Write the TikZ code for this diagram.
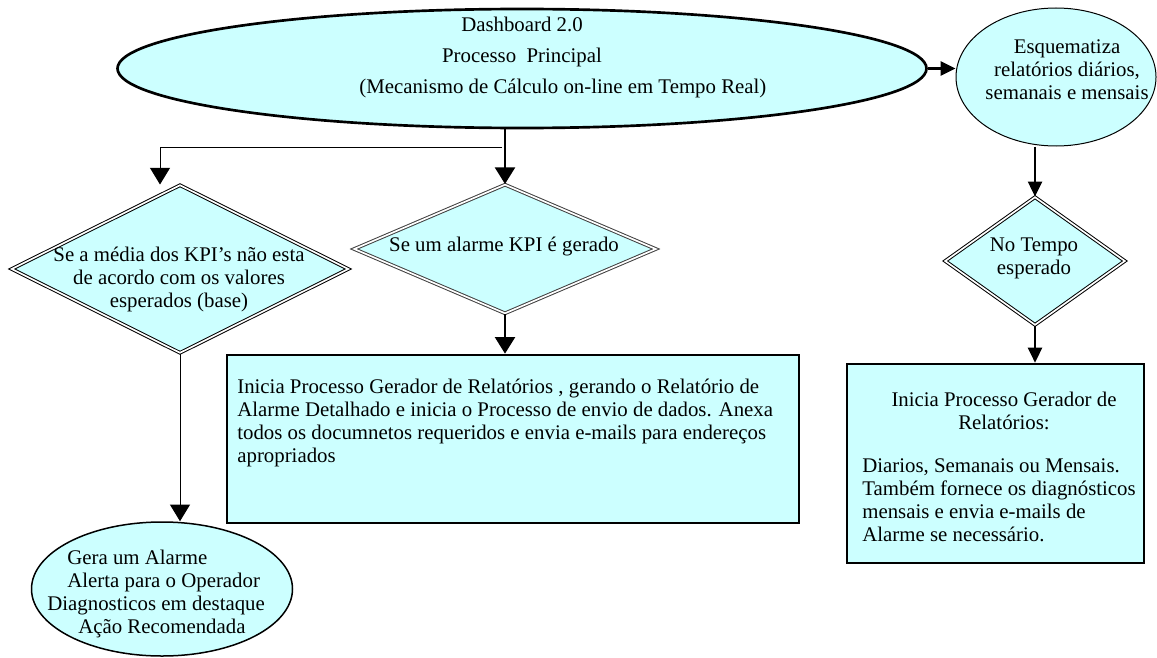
\documentclass[tikz,border=0pt]{standalone}
\usepackage{fontspec}
\setmainfont{Liberation Serif}
\usetikzlibrary{shapes.geometric,arrows.meta,positioning}
\definecolor{lightaqua}{HTML}{CCFFFF}
\definecolor{darkrim}{HTML}{404040}
\tikzset{
	proc/.style={ellipse,draw,fill=lightaqua,inner sep=0pt},
	dec/.style={diamond,draw,double=white,double distance=1pt,line width=.6pt,fill=lightaqua,inner sep=0pt},
	task/.style={rectangle,draw,line width=1.6pt,fill=lightaqua,inner sep=0pt},
	txt/.style={inner sep=0pt,align=center,font=\fontsize{12.5}{13.8}\selectfont},
	diredge/.style={->,>={Triangle[width=12pt,length=10pt]},color=black,line width=1.5pt},
	diredge2/.style={->,>={Triangle[width=8.5pt,length=9pt]},color=black,line width=1.2pt}
}

\begin{document}
\begin{tikzpicture}[x=0.6pt,y=-0.6pt]
	\useasboundingbox (0,0) rectangle (1157,657);
	
	\node[proc,line width=1.6pt,minimum width=485.4pt,minimum height=71.4pt] (P) at (522,68.5) {};
	\node[txt,font=\fontsize{12.5}{18.6}\selectfont] (Ptxt) at (522,57) {Dashboard 2.0\\Processo\ \ Principal\\\hspace*{49pt}(Mecanismo de Cálculo on-line em Tempo Real)};
	
	\node[proc,line width=.6pt,minimum width=120pt,minimum height=82.8pt] (S) at (1056,77) {};
	\node[txt] (Stxt) at (1067,70) {Esquematiza\\relatórios diários,\\semanais e mensais};
	
	\node[dec,minimum width=202.2pt,minimum height=100.8pt] (D1) at (180,269) {};
	\node[txt] (D1txt) at (179,279) {Se a média dos KPI’s não esta\\de acordo com os valores\\esperados (base)};
	
	\node[dec,draw=darkrim,minimum width=181.2pt,minimum height=77.4pt] (D2) at (505,249) {};
	\node[txt] (D2txt) at (504,247) {Se um alarme KPI é gerado};
	
	\node[dec,minimum width=108pt,minimum height=76.8pt] (D3) at (1035,261) {};
	\node[txt] (D3txt) at (1034,258) {No Tempo\\esperado};
	
	\node[task,minimum width=343.2pt,minimum height=100.8pt] (R2) at (513,439) {};
	\node[txt,align=left,anchor=west] (R2txt) at (237,423) {Inicia Processo Gerador de Relatórios , gerando o Relatório de\\Alarme Detalhado e inicia o Processo de envio de dados. Anexa\\todos os documnetos requeridos e envia e-mails para endereços\\apropriados};
	
	\node[task,minimum width=178.2pt,minimum height=119.4pt] (R3) at (995.5,463.5) {};
	\node[txt] (R3head) at (1004,411) {Inicia Processo Gerador de\\Relatórios:};
	\node[txt,align=left,anchor=west] (R3body) at (862,500) {Diarios, Semanais ou Mensais.\\Também fornece os diagnósticos\\mensais e envia e-mails de\\Alarme se necessário.};
	
	\node[proc,line width=.9pt,minimum width=156.6pt,minimum height=80.4pt] (A) at (162,589) {};
	\node[txt,align=left,anchor=west] (Atxt) at (47,594) {\hspace*{12pt}Gera um Alarme\\\hspace*{12pt}Alerta para o Operador\\Diagnosticos em destaque\\\hspace*{18.6pt}Ação Recomendada};
	
	\coordinate (B) at (502,147);
	
	\draw[diredge2,line width=1.5pt] (P.east) -- (P.east -| S.west);
	\draw[diredge] (D2.north |- P.south) -- (D2.north);
	\draw[diredge,line width=.6pt] (B) -| ([xshift=-12pt]D1.north);
	\draw[diredge,line width=.6pt] (D1.south) -- (D1.south |- A.north);
	\draw[diredge] (D2.south) -- (D2.south |- R2.north);
	\draw[diredge2] (D3.north |- S.south) -- (D3.north);
	\draw[diredge2] (D3.south) -- (D3.south |- R3.north);
\end{tikzpicture}
\end{document}
